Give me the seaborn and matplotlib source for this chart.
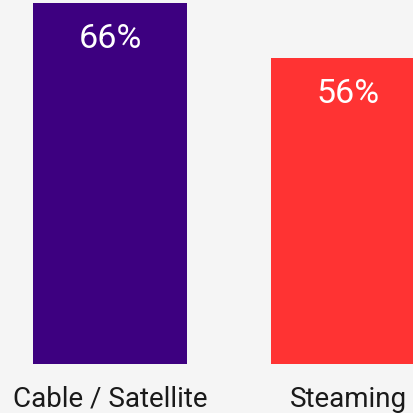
import matplotlib
matplotlib.use("Agg")
import matplotlib.pyplot as plt
import seaborn as sns
import pandas as pd

categories = ["Cable / Satellite", "Steaming"]
values = [66, 56]
colors = ["#3d0080", "#ff3333"]
value_labels = ["66%", "56%"]

df = pd.DataFrame({"category": categories, "value": values})

sns.set_theme(style="white")
plt.rcParams["font.family"] = ["Roboto", "DejaVu Sans"]

bg = "#f5f5f5"
fig = plt.figure(figsize=(4.13, 4.14), dpi=100, facecolor=bg)
ax = fig.add_axes([0, 49 / 414, 1, 365 / 414])
ax.set_facecolor(bg)

sns.barplot(data=df, x="category", y="value", hue="category",
            palette=colors, width=0.647, legend=False, ax=ax,
            saturation=1, edgecolor="none", linewidth=0)

ax.set_xlim(-0.462, 1.273)
ax.set_ylim(0, 66.73)

for i, (v, lab) in enumerate(zip(values, value_labels)):
    ax.text(i, v - 6.4, lab, ha="center", va="center", color="white",
            fontsize=24.5)

ax.set_xlabel("")
ax.set_ylabel("")
ax.set_yticks([])
ax.tick_params(axis="x", length=0, pad=15, labelsize=20, labelcolor="#1a1a1a")
for s in ax.spines.values():
    s.set_visible(False)

fig.savefig("out.png", dpi=100, facecolor=bg)
